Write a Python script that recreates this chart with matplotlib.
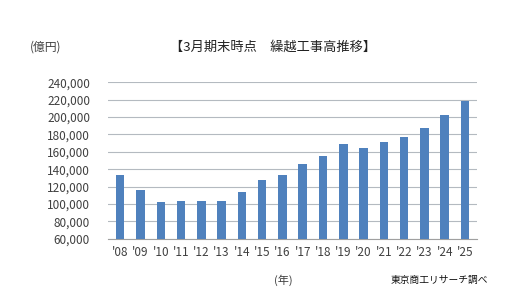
import matplotlib
matplotlib.use("Agg")
import matplotlib.pyplot as plt
from matplotlib.ticker import FuncFormatter

plt.rcParams['font.family'] = ['Noto Sans CJK JP', 'DejaVu Sans']

years = ["'08", "'09", "'10", "'11", "'12", "'13", "'14", "'15", "'16",
         "'17", "'18", "'19", "'20", "'21", "'22", "'23", "'24", "'25"]
values = [133400, 116200, 102400, 103600, 103600, 103600, 114000, 127700, 133400,
          146000, 155200, 169000, 164400, 171200, 177000, 187300, 202200, 218300]
yticks = list(range(60000, 240001, 20000))

fig = plt.figure(figsize=(5.22, 3.02), dpi=100)
ax = fig.add_axes([0.207, 0.209, 0.707, 0.519])

x = range(len(years))
ax.bar(x, values, width=0.42, color='#4F81BD', zorder=3)
ax.set_ylim(60000, 240000)
ax.set_xlim(-0.6, len(years) - 0.4)
ax.set_yticks(yticks)
ax.yaxis.set_major_formatter(FuncFormatter(lambda v, p: f"{int(v):,}"))
ax.set_xticks(list(x))
ax.set_xticklabels(years)
ax.grid(axis='y', color='#B4BAC0', linewidth=0.8, zorder=0)
for s in ['top', 'right', 'left']:
    ax.spines[s].set_visible(False)
ax.spines['bottom'].set_color('#A0A0A0')
ax.tick_params(axis='both', length=0, labelsize=8.5, colors='#404040')
ax.tick_params(axis='y', pad=13)
ax.tick_params(axis='x', pad=5)

fig.text(0.523, 0.845, '【3月期末時点　繰越工事高推移】', ha='center', va='center',
         fontsize=9.5, color='#222222')
fig.text(0.058, 0.845, '(億円)', ha='left', va='center', fontsize=8.5, color='#404040')
fig.text(0.543, 0.073, '(年)', ha='center', va='center', fontsize=8, color='#404040')
fig.text(0.841, 0.073, '東京商工リサーチ調べ', ha='center', va='center', fontsize=7,
         color='#111111')

fig.savefig('out.png', dpi=100)
